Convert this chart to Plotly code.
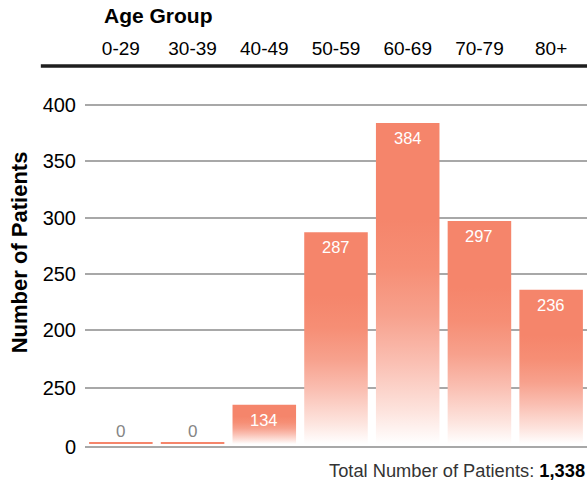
import plotly.graph_objects as go

# Patients per age group
age_groups = ["0-29", "30-39", "40-49", "50-59", "60-69", "70-79", "80+"]
patients = [0, 0, 134, 287, 384, 297, 236]

# Value axis: gridline positions and the labels printed beside them
y_tick_vals = [96.5, 149, 200, 250, 300, 350, 400]
y_tick_text = ["0", "250", "200", "250", "300", "350", "400"]

BAR_BASE = 99.0        # bars rise from just above the bottom gridline
ZERO_STUB = 1.8        # empty groups are shown as a thin stub
HALF_WIDTH = 0.443
SALMON = (245, 133, 107)
FONT = "Helvetica, Liberation Sans, Arial, sans-serif"


def mix_white(frac):
    r, g, b = (round(c + (255 - c) * frac) for c in SALMON)
    return f"rgb({r},{g},{b})"


# vertical fade: white at the bar foot, solid salmon in the upper part
fade = [[0.0, mix_white(1.0)], [0.1, mix_white(0.78)], [0.26, mix_white(0.47)],
        [0.4, mix_white(0.23)], [0.55, mix_white(0.07)], [0.7, mix_white(0.0)],
        [1.0, mix_white(0.0)]]

fig = go.Figure()
annotations = []
for i, (grp, v) in enumerate(zip(age_groups, patients)):
    top = max(v, BAR_BASE + ZERO_STUB)
    xs = [i - HALF_WIDTH, i + HALF_WIDTH, i + HALF_WIDTH, i - HALF_WIDTH, i - HALF_WIDTH]
    ys = [BAR_BASE, BAR_BASE, top, top, BAR_BASE]
    trace = dict(x=xs, y=ys, mode="lines", line=dict(width=0), fill="toself",
                 hoverinfo="skip", name=grp)
    if v > BAR_BASE:
        trace["fillgradient"] = dict(type="vertical", colorscale=fade,
                                     start=BAR_BASE, stop=top)
        annotations.append(dict(x=i, y=top, xref="x", yref="y", text=str(v),
                                showarrow=False, yanchor="top", yshift=-4,
                                font=dict(family=FONT, size=16.5, color="white")))
    else:
        trace["fillcolor"] = mix_white(0.0)
        annotations.append(dict(x=i, y=top, xref="x", yref="y", text=str(v),
                                showarrow=False, yanchor="bottom", yshift=-1,
                                font=dict(family=FONT, size=17, color="#858585")))
    fig.add_trace(go.Scatter(**trace))

total = sum(patients)

annotations += [
    dict(text="<b>Age Group</b>", xref="paper", yref="paper", x=0.034, y=1.131,
         xanchor="left", yanchor="middle", showarrow=False,
         font=dict(family=FONT, size=21, color="#000")),
    dict(text="<b>Number of Patients</b>", xref="paper", yref="paper", x=-0.131,
         y=0.513, xanchor="center", yanchor="middle", textangle=-90,
         showarrow=False, font=dict(family=FONT, size=22, color="#000")),
    dict(text=f"Total Number of Patients: <b><span style='color:#000'>{total:,}</span></b>",
         xref="paper", yref="paper", x=1.0, y=-0.058, xanchor="right",
         yanchor="middle", showarrow=False,
         font=dict(family=FONT, size=18.3, color="#333")),
]

fig.update_layout(
    width=587, height=482,
    margin=dict(l=85, r=0, t=66, b=34),
    paper_bgcolor="white", plot_bgcolor="white",
    showlegend=False,
    font=dict(family=FONT, color="#000"),
    annotations=annotations,
    shapes=[dict(type="line", xref="paper", yref="paper", x0=-0.088, x1=1,
                 y0=1, y1=1, line=dict(color="#1e1e1e", width=3.5))],
    xaxis=dict(range=[-0.5, 6.5], side="top", tickmode="array",
               tickvals=list(range(len(age_groups))), ticktext=age_groups,
               tickfont=dict(family=FONT, size=19, color="#000"),
               showgrid=False, zeroline=False, showline=False, ticks="",
               ticklabelstandoff=6),
    yaxis=dict(range=[95.5, 434.6], tickmode="array", tickvals=y_tick_vals,
               ticktext=y_tick_text,
               tickfont=dict(family=FONT, size=20, color="#000"),
               showgrid=True, gridcolor="#a8a8a8", gridwidth=1.6,
               zeroline=False, showline=False, ticks="", ticklabelstandoff=8),
)

fig.write_html("out.html")
